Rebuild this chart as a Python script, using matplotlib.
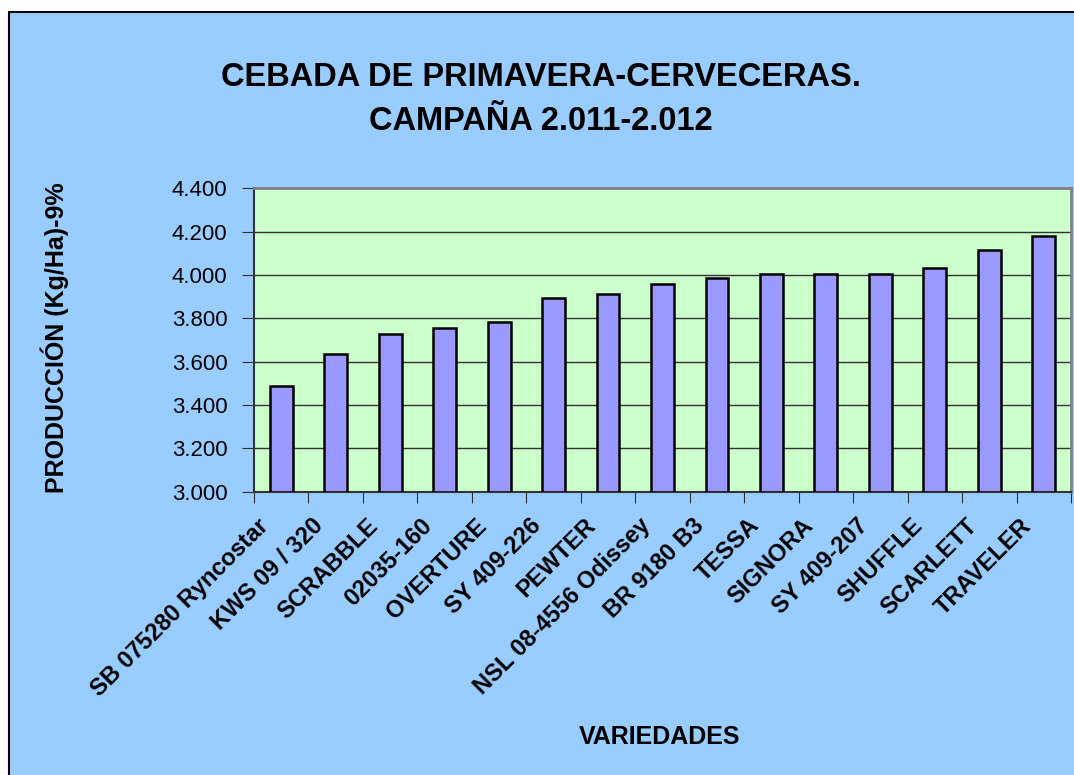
import matplotlib.pyplot as plt
import numpy as np
from matplotlib.patches import Rectangle
from matplotlib.ticker import FuncFormatter

plt.switch_backend('Agg')
plt.rcParams['font.family'] = ['Liberation Sans', 'DejaVu Sans']

# data
varieties = ['SB 075280 Ryncostar', 'KWS 09 / 320', 'SCRABBLE', '02035-160',
             'OVERTURE', 'SY 409-226', 'PEWTER', 'NSL 08-4556 Odissey',
             'BR 9180 B3', 'TESSA', 'SIGNORA', 'SY 409-207', 'SHUFFLE',
             'SCARLETT', 'TRAVELER']
production = [3488, 3637, 3728, 3757, 3783, 3895, 3912, 3958,
              3986, 4003, 4003, 4003, 4034, 4117, 4181]
y_ticks = [3000, 3200, 3400, 3600, 3800, 4000, 4200, 4400]

fig = plt.figure(figsize=(10.74, 7.75), dpi=100)
fig.patch.set_facecolor('white')
# light blue chart area with black border
fig.patches.append(Rectangle((9 / 1074, -0.01), 1.1, 1 - 12 / 775 + 0.01,
                             transform=fig.transFigure, facecolor='#99CCFF',
                             edgecolor='black', linewidth=1.5, zorder=-10))

ax = fig.add_axes([254 / 1074, 1 - 491.7 / 775, (1071 - 254) / 1074, (491.7 - 188.3) / 775])
ax.set_facecolor('#CCFFCC')

x = np.arange(len(varieties))
ax.bar(x, [p - y_ticks[0] for p in production], bottom=y_ticks[0], width=0.42,
       color='#9999FF', edgecolor='black', linewidth=1.8, zorder=3)

ax.set_ylim(y_ticks[0], y_ticks[-1])
ax.set_xlim(-0.5, len(varieties) - 0.5)
ax.set_yticks(y_ticks)
ax.yaxis.set_major_formatter(FuncFormatter(lambda v, p: f'{v / 1000:.3f}'))
ax.grid(axis='y', color='#333333', linewidth=1, zorder=1)

# ticks between categories, labels placed like Excel's rotated category labels
ax.set_xticks(np.arange(len(varieties) + 1) - 0.5)
ax.set_xticklabels([])
ax.tick_params(axis='x', length=8, color='#333333', direction='out')
ax.tick_params(axis='y', length=9, color='#333333', labelsize=16, pad=10)
for i, name in enumerate(varieties):
    ax.annotate(name, xy=(i, 0), xycoords=ax.get_xaxis_transform(),
                xytext=(-11.5, -22), textcoords='offset points',
                rotation=45, ha='right', va='center', rotation_mode='anchor',
                fontsize=17, fontweight='bold', annotation_clip=False)

for side in ['top', 'right']:
    ax.spines[side].set_color('#808080')
    ax.spines[side].set_linewidth(2)
for side in ['left', 'bottom']:
    ax.spines[side].set_color('#333333')
    ax.spines[side].set_linewidth(1.5)

fig.text(0.5035, 1 - 78 / 775, 'CEBADA DE PRIMAVERA-CERVECERAS.', ha='center', va='center',
         fontsize=23.5, fontweight='bold')
fig.text(0.5035, 1 - 122 / 775, 'CAMPAÑA 2.011-2.012', ha='center', va='center',
         fontsize=23.5, fontweight='bold')
fig.text(55 / 1074, 1 - 338 / 775, 'PRODUCCIÓN (Kg/Ha)-9%', rotation=90, ha='center',
         va='center', fontsize=18, fontweight='bold')
fig.text(660 / 1074, 1 - 737 / 775, 'VARIEDADES', ha='center', va='center',
         fontsize=18, fontweight='bold')

fig.savefig('out.png', dpi=100, facecolor=fig.get_facecolor())
